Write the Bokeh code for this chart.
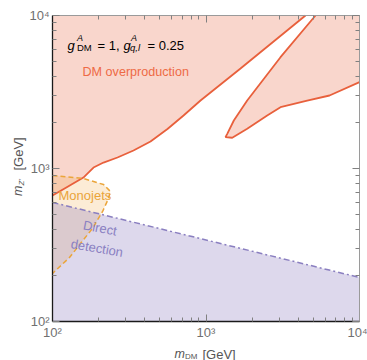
from bokeh.plotting import figure
from bokeh.models import LogAxis, FixedTicker, Label, Range1d
from bokeh.embed import file_html
from bokeh.resources import INLINE
import math

# ---------------- data ----------------
X_MIN, X_MAX = 100, 10000
Y_MIN, Y_MAX = 100, 10000

# relic-density (DM overproduction) boundary, main branch
relic_main_mdm = [100, 121.5, 159, 172, 185, 215, 265, 337, 435, 561, 714, 921, 1678, 4448]
relic_main_mz = [666, 746, 873, 942, 1015, 1094, 1180, 1311, 1502, 1813, 2220, 2782, 4504, 10000]

# relic-density boundary, resonance "tongue"
relic_tongue_mdm = [5169, 3057, 1855, 1518, 1375, 1340, 1482, 1855, 2504, 3057, 4563, 6378, 10000]
relic_tongue_mz = [10000, 5340, 2782, 2059, 1686, 1602, 1588, 1817, 2220, 2516, 2782, 3000, 3665]

# monojet exclusion contour
monojet_mdm = [100, 159, 215, 238.5, 230, 212, 182, 152, 129, 100]
monojet_mz = [900, 860, 786, 707, 627, 524, 405, 323, 262, 206]

# direct detection limit
dd_mdm = [100, 10000]
dd_mz = [600, 194]

major_ticks = [100, 1000, 10000]
minor_ticks = [m * 10 ** e for e in (2, 3) for m in range(2, 10)]
tick_labels = {100: "10²", 1000: "10³", 10000: "10⁴"}

# ---------------- layout (pixels) ----------------
W, H = 367, 360
BOX_L, BOX_R, BOX_T, BOX_B = 52, 359, 15, 321   # plot box inside the canvas
XPD = (BOX_R - BOX_L) / 2.0   # pixels per decade
YPD = (BOX_B - BOX_T) / 2.0
x_lo = 10 ** (math.log10(X_MIN) - BOX_L / XPD)
x_hi = 10 ** (math.log10(X_MAX) + (W - BOX_R) / XPD)
y_lo = 10 ** (math.log10(Y_MIN) - (H - BOX_B) / YPD)
y_hi = 10 ** (math.log10(Y_MAX) + BOX_T / YPD)

p = figure(x_axis_type="log", y_axis_type="log",
           x_range=Range1d(x_lo, x_hi), y_range=Range1d(y_lo, y_hi),
           width=W, height=H, min_border=0,
           toolbar_location=None, output_backend="svg")
p.outline_line_color = None
p.grid.visible = False
p.background_fill_color = "white"
p.border_fill_color = "white"

FONT = "Liberation Sans"

xa = p.xaxis[0]
ya = p.yaxis[0]
xa.fixed_location = Y_MIN
ya.fixed_location = X_MIN
xa.bounds = (X_MIN, X_MAX)
ya.bounds = (Y_MIN, Y_MAX)

for ax in (xa, ya):
    ax.ticker = FixedTicker(ticks=major_ticks, minor_ticks=minor_ticks)
    ax.major_label_overrides = tick_labels
    ax.axis_line_color = "#1a1a1a"
    ax.axis_line_width = 1.3
    ax.major_tick_line_color = "#808080"
    ax.minor_tick_line_color = "#808080"
    ax.major_tick_in = 7
    ax.major_tick_out = 0
    ax.minor_tick_in = 4
    ax.minor_tick_out = 0
    ax.major_label_text_font = FONT
    ax.major_label_text_font_size = "13px"
    ax.major_label_text_color = "#707070"
    ax.major_label_standoff = 3

top_ax = LogAxis(fixed_location=Y_MAX, bounds=(X_MIN, X_MAX))
right_ax = LogAxis(fixed_location=X_MAX, bounds=(Y_MIN, Y_MAX))
for ax in (top_ax, right_ax):
    ax.ticker = FixedTicker(ticks=major_ticks, minor_ticks=minor_ticks)
    ax.major_label_overrides = {100: "", 1000: "", 10000: ""}
    ax.axis_line_color = "#9a9a9a"
    ax.axis_line_width = 1.0
    ax.major_tick_line_color = "#808080"
    ax.minor_tick_line_color = "#808080"
    ax.major_tick_in = 7
    ax.major_tick_out = 0
    ax.minor_tick_in = 4
    ax.minor_tick_out = 0
    ax.major_label_standoff = 0
    ax.major_label_text_font_size = "1px"
p.add_layout(top_ax, "above")
p.add_layout(right_ax, "right")

# ---------------- regions ----------------
RED = "#e8603c"
ORANGE = "#eba53a"
PURPLE = "#8a7fc0"

p.patch(relic_main_mdm + [X_MIN], relic_main_mz + [Y_MAX],
        fill_color="#f9d6cc", line_color=None)
p.patch(relic_tongue_mdm + [X_MAX], relic_tongue_mz + [Y_MAX],
        fill_color="#f9d6cc", line_color=None)
p.patch(monojet_mdm, monojet_mz, fill_color="#f0a030", fill_alpha=0.2, line_color=None)
p.patch(dd_mdm + [X_MAX, X_MIN], dd_mz + [Y_MIN, Y_MIN],
        fill_color="#8070b8", fill_alpha=0.27, line_color=None)

p.line(dd_mdm, dd_mz, line_color=PURPLE, line_width=1.5, line_dash="6 3 2 3")
p.line(relic_main_mdm, relic_main_mz, line_color=RED, line_width=1.8)
p.line(relic_tongue_mdm, relic_tongue_mz, line_color=RED, line_width=1.8)
p.line(monojet_mdm, monojet_mz, line_color=ORANGE, line_width=1.5, line_dash="5 3")

# ---------------- texts (positions in canvas pixels, from top-left) ----------------
def lab(text, ix, iy, size, color="black", style="normal", angle=0.0,
        align="left", baseline="alphabetic"):
    p.add_layout(Label(x=ix, y=H - iy, x_units="screen", y_units="screen", text=text,
                       text_font=FONT, text_font_size=f"{size}px", text_color=color,
                       text_font_style=style, angle=angle, text_align=align,
                       text_baseline=baseline))

# coupling annotation
lab("g", 67, 45, 13, style="italic")
lab("A", 76.5, 37, 9, style="italic")
lab("DM", 76.5, 47, 9.5)
lab("= 1,", 97, 45, 13)
lab("g", 123, 45, 13, style="italic")
lab("A", 130.5, 37, 9, style="italic")
lab("q,l", 129.5, 47, 9.5, style="italic")
lab("= 0.25", 147, 45, 13)

# region labels
lab("DM overproduction", 82, 71, 12.6, color="#ee6a45")
lab("Monojets", 58, 195, 13, color="#eaa43a")
lab("Direct", 99.5, 227.5, 13, color="#8a80c2", angle=-0.19, align="center", baseline="middle")
lab("detection", 96.5, 247.5, 13, color="#8a80c2", angle=-0.17, align="center", baseline="middle")

# x axis label: m_DM [GeV]
AXC = "#555555"
lab("m", 174, 353.5, 12.5, color=AXC, style="italic")
lab("DM", 184.5, 355.5, 8, color=AXC)
lab("[GeV]", 202, 353.5, 13, color=AXC)

# y axis label: m_Z' [GeV] (rotated)
lab("m", 17.5, 195.5, 12.5, color=AXC, style="italic", angle=math.pi / 2)
lab("Z′", 20.5, 185, 8, color=AXC, style="italic", angle=math.pi / 2)
lab("[GeV]", 17.5, 170, 13, color=AXC, angle=math.pi / 2)

open("out.html", "w").write(file_html(p, INLINE))
